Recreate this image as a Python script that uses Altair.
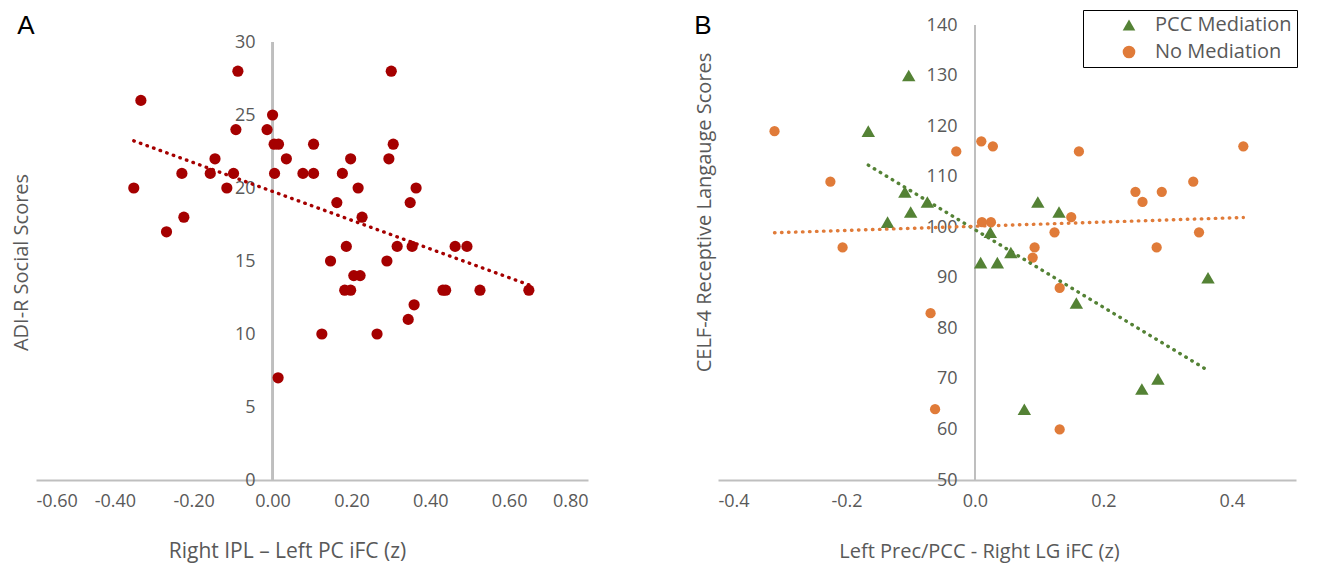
import altair as alt
import pandas as pd

# ---------------- data: panel A ----------------
a_x = [-0.352, -0.334, -0.269, -0.230, -0.225, -0.158, -0.146, -0.116, -0.099, -0.093,
       -0.088, -0.014, 0.000, 0.004, 0.015, 0.005, 0.014, 0.035, 0.077, 0.104,
       0.104, 0.125, 0.147, 0.163, 0.177, 0.187, 0.198, 0.183, 0.198, 0.206,
       0.222, 0.217, 0.227, 0.265, 0.290, 0.295, 0.301, 0.306, 0.316, 0.344,
       0.349, 0.354, 0.359, 0.364, 0.432, 0.439, 0.463, 0.493, 0.526, 0.650]
a_y = [20, 26, 17, 21, 18, 21, 22, 20, 21, 24,
       28, 24, 25, 23, 23, 21, 7, 22, 21, 23,
       21, 10, 15, 19, 21, 16, 22, 13, 13, 14,
       14, 20, 18, 10, 15, 22, 28, 23, 16, 11,
       19, 16, 12, 20, 13, 13, 16, 16, 13, 13]

# ---------------- data: panel B ----------------
pcc_x = [-0.103, -0.166, -0.109, -0.100, -0.074, -0.136, 0.098, 0.131, 0.024, 0.056,
         0.009, 0.035, 0.158, 0.363, 0.260, 0.285, 0.077]
pcc_y = [130, 119, 107, 103, 105, 101, 105, 103, 99, 95,
         93, 93, 85, 90, 68, 70, 64]
no_x = [-0.312, -0.225, -0.206, -0.069, -0.062, -0.029, 0.010, 0.028, 0.011, 0.025,
        0.090, 0.093, 0.124, 0.132, 0.132, 0.150, 0.162, 0.250, 0.261, 0.291,
        0.283, 0.340, 0.349, 0.418]
no_y = [119, 109, 96, 83, 64, 115, 117, 116, 101, 101,
        94, 96, 99, 88, 60, 102, 115, 107, 105, 107,
        96, 109, 99, 116]
groups = ["PCC Mediation", "No Mediation"]

a_xticks = [-0.6, -0.4, -0.2, 0.0, 0.2, 0.4, 0.6, 0.8]
a_yticks = [0, 5, 10, 15, 20, 25, 30]
b_xticks = [-0.4, -0.2, 0.0, 0.2, 0.4]
b_yticks = [50, 60, 70, 80, 90, 100, 110, 120, 130, 140]

FONT = "Open Sans"
LETTER_FONT = "Liberation Sans"
GREY = "#595959"
LINE = "#bfbfbf"
RED = "#a50000"
GREEN = "#548235"
ORANGE = "#e07b39"

H = 455

# ---------------- panel A ----------------
dfa = pd.DataFrame({"x": a_x, "y": a_y})
xA = alt.Scale(domain=[-0.6, 0.8], nice=False, zero=False)
yA = alt.Scale(domain=[0, 30 * 455 / 438], nice=False)

axA_x = alt.Axis(values=a_xticks, ticks=False, grid=False, domainColor=LINE, domainWidth=2,
                 labelExpr="(datum.value < -1e-9 ? '-' : '') + format(abs(datum.value), '.2f')",
                 labelPadding=12, labelFontSize=18, labelColor=GREY, labelFont=FONT,
                 title="Right IPL \u2013 Left PC iFC (z)", titleFont=FONT, titleFontSize=21,
                 titleFontWeight="normal", titleColor=GREY, titleX=251, titleY=71,
                 titleBaseline="middle", titleAlign="center")
axA_y = alt.Axis(values=a_yticks, offset=-236, domain=False, ticks=False, grid=False,
                 labelPadding=17, labelFontSize=18, labelColor=GREY, labelFont=FONT,
                 title="ADI-R Social Scores", titleFont=FONT, titleFontSize=20,
                 titleFontWeight="normal", titleColor=GREY, titleX=-251, titleY=237,
                 titleBaseline="middle", titleAlign="center", titleAngle=270)

ptsA = alt.Chart(dfa).mark_circle(size=125, color=RED, opacity=1).encode(
    x=alt.X("x:Q", scale=xA, axis=axA_x),
    y=alt.Y("y:Q", scale=yA, axis=axA_y),
)
ruleA = alt.Chart(dfa).mark_rule(color=LINE, strokeWidth=1.5).encode(
    x=alt.datum(0), y=alt.datum(0), y2=alt.datum(30)
)
trendA = alt.Chart(dfa).transform_regression("x", "y").mark_line(
    color=RED, strokeDash=[0.5, 6.5], strokeCap="round", strokeWidth=3.4
).encode(x="x:Q", y="y:Q")
labA = alt.Chart(pd.DataFrame({"t": ["A"]})).mark_text(
    fontSize=26, font=LETTER_FONT, color="black", align="center", baseline="alphabetic"
).encode(text="t:N", x=alt.value(-10), y=alt.value(9))

panelA = alt.layer(ruleA, ptsA, trendA, labA).properties(width=552, height=H)

# ---------------- panel B ----------------
dfb = pd.DataFrame({
    "x": pcc_x + no_x,
    "y": pcc_y + no_y,
    "group": [groups[0]] * len(pcc_x) + [groups[1]] * len(no_x),
})
xB = alt.Scale(domain=[-0.4, 0.5], nice=False, zero=False)
yB = alt.Scale(domain=[50, 140], nice=False, zero=False)
cB = alt.Scale(domain=groups, range=[GREEN, ORANGE])
sB = alt.Scale(domain=groups, range=["triangle-up", "circle"])

axB_x = alt.Axis(values=b_xticks, ticks=False, grid=False, domainColor=LINE, domainWidth=2,
                 labelExpr="(datum.value < -1e-9 ? '-' : '') + format(abs(datum.value), '.1f')",
                 labelPadding=12, labelFontSize=18, labelColor=GREY, labelFont=FONT,
                 title="Left Prec/PCC - Right LG iFC (z)", titleFont=FONT, titleFontSize=20,
                 titleFontWeight="normal", titleColor=GREY, titleX=261, titleY=71,
                 titleBaseline="middle", titleAlign="center")
axB_y = alt.Axis(values=b_yticks, offset=-257, domain=False, ticks=False, grid=False,
                 labelPadding=18, labelFontSize=18, labelColor=GREY, labelFont=FONT,
                 title="CELF-4 Receptive Langauge Scores", titleFont=FONT, titleFontSize=20,
                 titleFontWeight="normal", titleColor=GREY, titleX=-271, titleY=187,
                 titleBaseline="middle", titleAlign="center", titleAngle=270)

legB = alt.Legend(title=None, orient="none", legendX=1047, legendY=-15,
                  strokeColor="black", padding=5, symbolOffset=31, labelOffset=16,
                  symbolSize=160, symbolStrokeWidth=0, rowPadding=7,
                  labelFontSize=20, labelFont=FONT, labelColor=GREY,
                  labelExpr="datum.label + '    '")

circB = alt.Chart(dfb).transform_filter(alt.datum.group == groups[1]).mark_point(
    filled=True, size=105, opacity=1
).encode(
    x=alt.X("x:Q", scale=xB, axis=axB_x),
    y=alt.Y("y:Q", scale=yB, axis=axB_y),
    color=alt.Color("group:N", scale=cB, legend=legB),
    shape=alt.Shape("group:N", scale=sB, legend=legB),
)
triB = alt.Chart(dfb).transform_filter(alt.datum.group == groups[0]).mark_point(
    filled=True, size=180, opacity=1
).encode(
    x="x:Q", y="y:Q",
    color=alt.Color("group:N", scale=cB, legend=legB),
    shape=alt.Shape("group:N", scale=sB, legend=legB),
)
ruleB = alt.Chart(dfb).mark_rule(color=LINE, strokeWidth=1.5).encode(
    x=alt.datum(0), y=alt.datum(50), y2=alt.datum(140)
)
trendG = alt.Chart(dfb).transform_filter(alt.datum.group == groups[0]).transform_regression(
    "x", "y").mark_line(color=GREEN, strokeDash=[0.5, 6.5], strokeCap="round", strokeWidth=3.4
).encode(x="x:Q", y="y:Q")
trendO = alt.Chart(dfb).transform_filter(alt.datum.group == groups[1]).transform_regression(
    "x", "y").mark_line(color=ORANGE, strokeDash=[0.5, 6.5], strokeCap="round", strokeWidth=3.4
).encode(x="x:Q", y="y:Q")
labB = alt.Chart(pd.DataFrame({"t": ["B"]})).mark_text(
    fontSize=26, font=LETTER_FONT, color="black", align="center", baseline="alphabetic"
).encode(text="t:N", x=alt.value(-15), y=alt.value(9))

panelB = alt.layer(ruleB, circB, triB, trendG, trendO, labB).properties(width=578, height=H)

chart = alt.hconcat(panelA, panelB, spacing=130, bounds="flush").properties(
    padding={"left": 3, "top": 1, "right": 2, "bottom": 4}
).configure(font=FONT).configure_view(stroke=None)

chart.save("out.html", embed_options={"renderer": "svg", "actions": False})
